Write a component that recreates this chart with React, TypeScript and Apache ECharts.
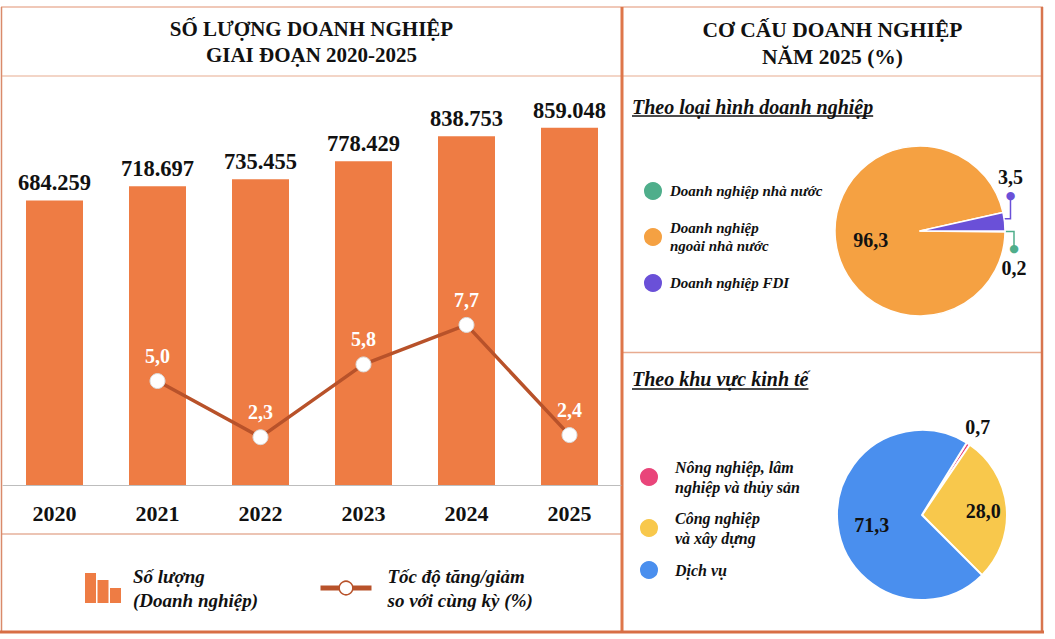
import React, { useEffect, useRef } from 'react';
import * as echarts from 'echarts';

// ---------- data ----------
const years = ['2020', '2021', '2022', '2023', '2024', '2025'];
const enterpriseCounts = [684259, 718697, 735455, 778429, 838753, 859048];
const growthRates: (number | null)[] = [null, 5.0, 2.3, 5.8, 7.7, 2.4];

const ownershipNames = ['Doanh nghiệp nhà nước', 'Doanh nghiệp ngoài nhà nước', 'Doanh nghiệp FDI'];
const ownershipLegendText = ['Doanh nghiệp nhà nước', 'Doanh nghiệp\nngoài nhà nước', 'Doanh nghiệp FDI'];
const ownershipShares = [0.2, 96.3, 3.5];

const sectorNames = ['Nông nghiệp, lâm nghiệp và thủy sản', 'Công nghiệp và xây dựng', 'Dịch vụ'];
const sectorLegendText = ['Nông nghiệp, lâm\nnghiệp và thủy sản', 'Công nghiệp\nvà xây dựng', 'Dịch vụ'];
const sectorShares = [0.7, 28.0, 71.3];

const barSeriesName = 'Số lượng';
const barLegendText = 'Số lượng\n(Doanh nghiệp)';
const lineSeriesName = 'Tốc độ tăng/giảm';
const lineLegendText = 'Tốc độ tăng/giảm\nso với cùng kỳ (%)';

// ---------- styles ----------
const FONT = '"Liberation Serif", "Times New Roman", serif';
const BAR_COLOR = '#EE7C44';
const LINE_COLOR = '#B8522A';
const ownershipColors = ['#4FAE8B', '#F5A142', '#6A50D8'];
const sectorColors = ['#E9457A', '#F8C84C', '#4A8FEE'];
const TEXT = '#111';

const comma = (v: number) => v.toFixed(1).replace('.', ',');
const thousands = (v: number) => String(v).replace(/\B(?=(\d{3})+(?!\d))/g, '.');

function measure(text: string, font: string) {
  const ctx = document.createElement('canvas').getContext('2d');
  if (!ctx) return text.length * 9;
  ctx.font = font;
  return ctx.measureText(text).width;
}

function hline(x1: number, y: number, x2: number, w: number, color: string) {
  return { type: 'line', silent: true, shape: { x1, y1: y, x2, y2: y }, style: { stroke: color, lineWidth: w } };
}
function vline(x: number, y1: number, y2: number, w: number, color: string) {
  return { type: 'line', silent: true, shape: { x1: x, y1, x2: x, y2 }, style: { stroke: color, lineWidth: w } };
}
function txt(text: string, x: number, y: number, size: number, italic: boolean, align: string) {
  return {
    type: 'text',
    silent: true,
    style: {
      text, x, y,
      fill: TEXT,
      fontSize: size,
      fontWeight: 'bold',
      fontStyle: italic ? 'italic' : 'normal',
      fontFamily: FONT,
      align, textAlign: align,
      verticalAlign: 'middle', textVerticalAlign: 'middle',
    },
  };
}

export default function App() {
  const ref = useRef<HTMLDivElement>(null);

  useEffect(() => {
    if (!ref.current) return;
    const chart = echarts.init(ref.current, undefined, { renderer: 'svg' });

    const sub1 = 'Theo loại hình doanh nghiệp';
    const sub2 = 'Theo khu vực kinh tế';
    const subFont = `italic bold 20px ${FONT}`;
    const w1 = measure(sub1, subFont);
    const w2 = measure(sub2, subFont);

    const thin = '#E8AB90';
    const mid = '#D98A6A';
    const thick = '#DE764A';

    const graphic: any[] = [
      hline(1, 7, 1043, 1.5, '#EBB6A0'),
      vline(1.5, 7, 633, 1.5, mid),
      hline(2, 76, 621, 1.2, thin),
      hline(623, 76, 1042, 1.2, thin),
      hline(2, 534, 621, 1.2, mid),
      hline(623, 352.5, 1042, 1.5, thin),
      vline(622, 7, 633, 3, thick),
      vline(1042, 7, 633, 2.5, '#D8754E'),
      hline(0, 632, 1044, 3, '#D86E45'),
      txt('SỐ LƯỢNG DOANH NGHIỆP', 311.5, 29, 21, false, 'center'),
      txt('GIAI ĐOẠN 2020-2025', 311.5, 55, 21, false, 'center'),
      txt('CƠ CẤU DOANH NGHIỆP', 832.5, 30, 21.5, false, 'center'),
      txt('NĂM 2025 (%)', 832.5, 57, 21.5, false, 'center'),
      txt(sub1, 632, 107, 20, true, 'left'),
      hline(632, 116, 632 + w1, 1.5, TEXT),
      txt(sub2, 632, 379, 20, true, 'left'),
      hline(632, 389, 632 + w2, 1.5, TEXT),
    ];

    const legendFont = { fontFamily: FONT, fontStyle: 'italic', fontWeight: 'bold', color: TEXT };

    const option: any = {
      animation: false,
      backgroundColor: '#fff',
      textStyle: { fontFamily: FONT },
      grid: { left: 3, right: 434, top: 90, bottom: 154 },
      xAxis: {
        type: 'category',
        data: years,
        axisLine: { lineStyle: { color: '#BDBDBD', width: 1 } },
        axisTick: { show: false },
        axisLabel: { margin: 17, fontSize: 22, fontWeight: 'bold', color: TEXT, fontFamily: FONT },
      },
      yAxis: [
        { type: 'value', min: 0, max: 950000, show: false, splitLine: { show: false } },
        { type: 'value', min: 0, max: 19, show: false, splitLine: { show: false } },
      ],
      legend: [
        {
          data: [{ name: barSeriesName, icon: 'path://M0,0H11V30H0Z M12.5,7H23.5V30H12.5Z M25,15H36V30H25Z' }],
          left: 85, top: 564, padding: 0,
          itemWidth: 36, itemHeight: 30,
          selectedMode: false,
          formatter: () => barLegendText,
          textStyle: { ...legendFont, fontSize: 19, lineHeight: 24, padding: [0, 0, 0, 7] },
        },
        {
          data: [{
            name: lineSeriesName,
            itemStyle: { color: '#fff', borderColor: LINE_COLOR, borderWidth: 1.5 },
            lineStyle: { color: LINE_COLOR, width: 5 },
          }],
          left: 318, top: 564, padding: 0,
          itemWidth: 51, itemHeight: 17,
          selectedMode: false,
          formatter: () => lineLegendText,
          textStyle: { ...legendFont, fontSize: 19, lineHeight: 24, padding: [0, 0, 0, 11] },
        },
        {
          data: ownershipNames,
          orient: 'vertical', left: 642, top: 180, padding: 0,
          itemWidth: 20, itemHeight: 20, itemGap: 17, icon: 'circle',
          selectedMode: false,
          formatter: (n: string) => ownershipLegendText[ownershipNames.indexOf(n)],
          textStyle: { ...legendFont, fontSize: 15, lineHeight: 18, padding: [0, 0, 0, 2] },
        },
        {
          data: sectorNames,
          orient: 'vertical', left: 638, top: 457, padding: 0,
          itemWidth: 20, itemHeight: 20, itemGap: 11, icon: 'circle',
          selectedMode: false,
          formatter: (n: string) => sectorLegendText[sectorNames.indexOf(n)],
          textStyle: { ...legendFont, fontSize: 16, lineHeight: 20, padding: [0, 0, 0, 11] },
        },
      ],
      series: [
        {
          type: 'bar',
          name: barSeriesName,
          data: enterpriseCounts,
          barWidth: 57,
          itemStyle: { color: BAR_COLOR },
          label: {
            show: true, position: 'top', distance: 6,
            fontSize: 22.5, fontWeight: 'bold', color: TEXT, fontFamily: FONT,
            formatter: (p: any) => thousands(p.value),
          },
        },
        {
          type: 'line',
          name: lineSeriesName,
          yAxisIndex: 1,
          data: growthRates,
          symbol: 'circle',
          symbolSize: 15,
          z: 5,
          lineStyle: { color: LINE_COLOR, width: 3.5 },
          itemStyle: { color: '#fff', borderColor: '#DADADA', borderWidth: 1 },
          label: {
            show: true, position: 'top', distance: 7,
            color: '#fff', fontSize: 20, fontWeight: 'bold', fontFamily: FONT,
            formatter: (p: any) => (p.value == null ? '' : comma(p.value)),
          },
        },
        {
          type: 'pie',
          name: 'Theo loại hình doanh nghiệp',
          center: [920, 231],
          radius: 85,
          startAngle: 0,
          clockwise: true,
          avoidLabelOverlap: false,
          itemStyle: { borderColor: '#fff', borderWidth: 1.5 },
          label: {
            show: true, position: 'inside',
            fontSize: 20, fontWeight: 'bold', color: TEXT, fontFamily: FONT,
            formatter: (p: any) => comma(p.value),
          },
          labelLine: { show: false },
          data: ownershipNames.map((name, i) => {
            const item: any = { name, value: ownershipShares[i], itemStyle: { color: ownershipColors[i] } };
            if (i !== 1) {
              const rich = {
                v: { fontSize: 20, fontWeight: 'bold', color: TEXT, fontFamily: FONT, lineHeight: 30 },
                d: { fontSize: 11, lineHeight: 8, color: ownershipColors[i], fontFamily: 'DejaVu Sans' },
              };
              item.label = {
                position: 'outside',
                formatter: i === 2 ? (p: any) => `{v|${comma(p.value)}}\n{d|●}` : (p: any) => `{d|●}\n{v|${comma(p.value)}}`,
                rich,
              };
              item.labelLine = { show: true, length: 6, length2: 6, lineStyle: { color: ownershipColors[i], width: 1.5 } };
            }
            return item;
          }),
          labelLayout: (p: any) => {
            if (p.dataIndex === 1) return { dx: -4, dy: 4 };
            const pts = p.labelLinePoints;
            if (!pts) return {};
            const x0 = pts[0][0];
            const y0 = pts[0][1];
            if (p.dataIndex === 2) {
              const xe = x0 + 6;
              const ye = y0 - 26;
              return {
                x: xe, y: ye + 4, align: 'center', verticalAlign: 'bottom',
                labelLinePoints: [[x0 - 2, y0 - 3], [xe, y0 - 3], [xe, ye]],
              };
            }
            const xe = x0 + 9;
            const ye = y0 + 17;
            return {
              x: xe, y: ye - 4, align: 'center', verticalAlign: 'top',
              labelLinePoints: [[x0 - 2, y0], [xe, y0], [xe, ye]],
            };
          },
        },
        {
          type: 'pie',
          name: 'Theo khu vực kinh tế',
          center: [922, 515],
          radius: 85,
          startAngle: 58.3,
          clockwise: true,
          avoidLabelOverlap: false,
          itemStyle: { borderColor: '#fff', borderWidth: 2 },
          label: {
            show: true, position: 'inside',
            fontSize: 20, fontWeight: 'bold', color: TEXT, fontFamily: FONT,
            formatter: (p: any) => comma(p.value),
          },
          labelLine: { show: false },
          data: sectorNames.map((name, i) => {
            const item: any = { name, value: sectorShares[i], itemStyle: { color: sectorColors[i] } };
            if (i === 0) item.label = { position: 'outside' };
            return item;
          }),
          labelLayout: (p: any) => {
            if (p.dataIndex === 0) {
              return { x: p.rect.x + p.rect.width + 7, y: p.rect.y - 15, align: 'center', verticalAlign: 'middle' };
            }
            if (p.dataIndex === 1) return { dx: 16 };
            return { dx: -5, dy: 5 };
          },
        },
      ],
      graphic,
    };

    chart.setOption(option);
    return () => chart.dispose();
  }, []);

  return (
    <div
      ref={ref}
      style={{ position: 'fixed', left: 0, top: 0, width: 1055, height: 639, background: '#fff' }}
    />
  );
}
